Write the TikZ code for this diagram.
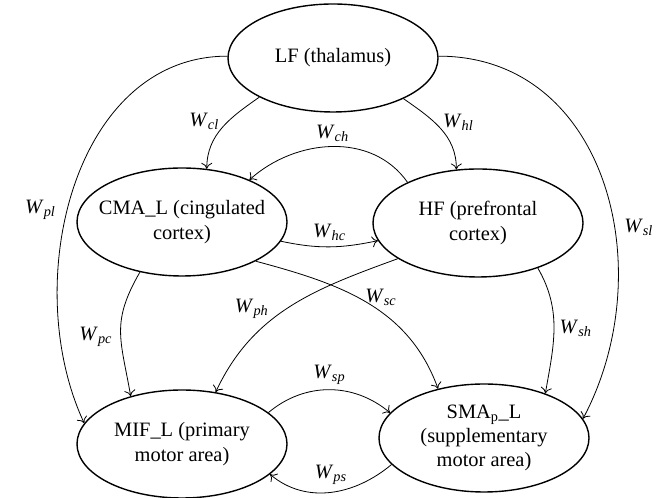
\documentclass[tikz,border=0pt]{standalone}
\usepackage{fontspec}
\setmainfont{Liberation Serif}
\usetikzlibrary{shapes.geometric,arrows.meta}
\newcommand{\wlab}[1]{\textit{W}\textsubscript{\textit{#1}}}
\begin{document}
\begin{tikzpicture}[x=1bp,y=1bp,
  font=\fontsize{20.5}{24.5}\selectfont,
  area/.style={draw,ellipse,line width=1.4bp,minimum width=210bp,minimum height=108bp,
    inner xsep=-12bp,inner ysep=0pt,align=center},
  link/.style={-{To[length=6bp,width=11bp]},line width=0.8bp}]
\useasboundingbox (0,0) rectangle (662,498);

\node [area] (lf) at (333,440) {LF (thalamus)};
\node [area] (cma) at (182,276) {CMA\_L (cingulated\\cortex)};
\node [area] (hf) at (478,275) {HF (prefrontal\\cortex)};
\node [area] (mif) at (182,54) {MIF\_L (primary\\motor area)};
\node [area] (sma) at (484,60) {SMA\textsubscript{p}\_L\\(supplementary\\motor area)};

% from the thalamus
\draw [link] (lf.179) to[out=180,in=115] node[pos=.55,left=8bp] {\wlab{pl}} (mif.168);
\draw [link] (lf.1) to[out=0,in=62,looseness=1.1] node[pos=.6,right=6bp] {\wlab{sl}} (sma.11);
\draw [link] (lf.208) to[out=215,in=90] node[pos=.4,left=6bp] {\wlab{cl}} (cma.65);
\draw [link] (lf.330) to[out=-35,in=90] node[pos=.4,right=5bp] {\wlab{hl}} (hf.112);

% between cingulated and prefrontal cortex
\draw [link] (hf.150) to[out=125,in=42] node[pos=.5,above=1bp] {\wlab{ch}} (cma.32);
\draw [link] (cma.349) to[out=-12,in=192] node[pos=.5,above=2bp] {\wlab{hc}} (hf.190);

% down to the motor areas
\draw [link] (cma.230) to[out=240,in=100,looseness=1.2] node[pos=.55,left=5bp] {\wlab{pc}} (mif.137);
\draw [link] (cma.332) to[out=-15,in=110] node[pos=.45,right=4bp] {\wlab{sc}} (sma.133);
\draw [link] (hf.204) to[out=200,in=65] node[pos=.52,left=14bp] {\wlab{ph}} (mif.57);
\draw [link] (hf.323) to[out=-60,in=80] node[pos=.5,right=2bp] {\wlab{sh}} (sma.36);

% between the motor areas
\draw [link] (mif.20) to[out=40,in=140] node[pos=.5,above=1bp] {\wlab{sp}} (sma.165);
\draw [link] (sma.196) to[out=220,in=-40] node[pos=.5,above=4bp] {\wlab{ps}} (mif.341);
\end{tikzpicture}
\end{document}
